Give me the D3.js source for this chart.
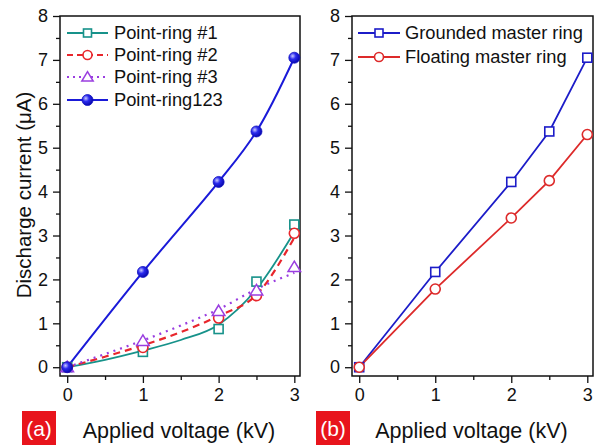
<!DOCTYPE html>
<html>
<head>
<meta charset="utf-8">
<script src="https://cdn.jsdelivr.net/npm/d3@7"></script>
<style>
  body { margin: 0; background: #fff; }
  svg { font-family: "Liberation Sans", Arial, sans-serif; }
</style>
</head>
<body>
<svg id="chart" width="594" height="445"></svg>
<script>
// voltages (kV)
var voltage = [0, 1, 2, 2.5, 3];

// panel (a) measured points (uA)
var ring1 = [0, 0.35, 0.87, 1.95, 3.25];
var ring2 = [0, 0.45, 1.12, 1.63, 3.05];
var ring3 = [0, 0.6, 1.28, 1.75, 2.28];
var ring123 = [0, 2.17, 4.22, 5.37, 7.05];

// panel (a) fitted curves
var fitX = [0, 0.5, 1, 1.5, 2, 2.5, 3];
var fit1 = [0, 0.17, 0.38, 0.62, 0.97, 1.78, 3.08];
var fit2 = [0, 0.24, 0.5, 0.8, 1.17, 1.65, 2.95];
var fit3 = [0, 0.3, 0.61, 0.95, 1.32, 1.78, 2.15];

// panel (b)
var grounded = [0, 2.17, 4.22, 5.37, 7.05];
var floating = [0, 1.78, 3.4, 4.25, 5.3];

var xTicks = [0, 1, 2, 3];
var yTicks = [0, 1, 2, 3, 4, 5, 6, 7, 8];

var svg = d3.select("#chart");

var defs = svg.append("defs");
var grad = defs.append("radialGradient").attr("id", "ball")
    .attr("cx", "35%").attr("cy", "35%").attr("r", "65%");
grad.append("stop").attr("offset", "0%").attr("stop-color", "#c8c8ff");
grad.append("stop").attr("offset", "45%").attr("stop-color", "#2a2aee");
grad.append("stop").attr("offset", "100%").attr("stop-color", "#0a0ab0");

var y = d3.scaleLinear().domain([-0.2, 8]).range([376, 16]);

function panel(x0, x1, id) {
    var x = d3.scaleLinear().domain([-0.095, 3.075]).range([x0, x1]);
    var g = svg.append("g");

    defs.append("clipPath").attr("id", "clip" + id)
        .append("rect").attr("x", x0).attr("y", 16)
        .attr("width", x1 - x0).attr("height", 360);

    // minor ticks
    g.append("g").attr("transform", "translate(0,376)")
        .call(d3.axisBottom(x).tickValues([0.5, 1.5, 2.5]).tickSize(4).tickFormat(""))
        .call(function(a) { a.select(".domain").remove(); });
    g.append("g").attr("transform", "translate(" + x0 + ",0)")
        .call(d3.axisLeft(y).tickValues(d3.range(0.5, 8, 1)).tickSize(4).tickFormat(""))
        .call(function(a) { a.select(".domain").remove(); });

    var ax = g.append("g").attr("transform", "translate(0,376)")
        .call(d3.axisBottom(x).tickValues(xTicks).tickSize(7).tickPadding(5).tickFormat(d3.format("d")));
    ax.select(".domain").remove();
    ax.selectAll("text").attr("font-size", 18).attr("fill", "#111");

    var ay = g.append("g").attr("transform", "translate(" + x0 + ",0)")
        .call(d3.axisLeft(y).tickValues(yTicks).tickSize(7).tickPadding(5).tickFormat(d3.format("d")));
    ay.select(".domain").remove();
    ay.selectAll("text").attr("font-size", 18).attr("fill", "#111");

    g.selectAll(".tick line").attr("stroke", "#111").attr("stroke-width", 1.3);

    g.append("rect").attr("x", x0).attr("y", 16)
        .attr("width", x1 - x0).attr("height", 360)
        .attr("fill", "none").attr("stroke", "#111").attr("stroke-width", 1.5);

    g.append("text").attr("x", (x0 + x1) / 2 - 1).attr("y", 438)
        .attr("text-anchor", "middle").attr("font-size", 21.5).attr("fill", "#111")
        .text("Applied voltage (kV)");

    return { x: x, g: g, clip: "url(#clip" + id + ")" };
}

function line(p, xs, ys, color, dash, curve, width) {
    p.g.append("path")
        .datum(xs.map(function(v, i) { return [v, ys[i]]; }))
        .attr("clip-path", p.clip)
        .attr("fill", "none").attr("stroke", color)
        .attr("stroke-width", width || 1.8)
        .attr("stroke-dasharray", dash)
        .attr("d", d3.line().curve(curve)
            .x(function(d) { return p.x(d[0]); })
            .y(function(d) { return y(d[1]); }));
}

function marker(sel, shape, color, size) {
    if (shape === "square") {
        sel.append("rect").attr("x", -size).attr("y", -size)
            .attr("width", size * 2).attr("height", size * 2)
            .attr("fill", "#fff").attr("stroke", color).attr("stroke-width", 1.6);
    } else if (shape === "circle") {
        sel.append("circle").attr("r", size)
            .attr("fill", "#fff").attr("stroke", color).attr("stroke-width", 1.6);
    } else if (shape === "triangle") {
        var s = size * 1.2;
        sel.append("path").attr("d", "M0," + (-s) + "L" + (s * 1.05) + "," + (s * 0.75) + "L" + (-s * 1.05) + "," + (s * 0.75) + "Z")
            .attr("fill", "#fff").attr("stroke", color).attr("stroke-width", 1.5);
    } else if (shape === "ball") {
        sel.append("circle").attr("r", size).attr("fill", "url(#ball)")
            .attr("stroke", "#1010c0").attr("stroke-width", 0.8);
    }
}

function points(p, xs, ys, shape, color, size) {
    p.g.selectAll(null)
        .data(xs.map(function(v, i) { return [v, ys[i]]; }))
        .enter().append("g")
        .attr("transform", function(d) { return "translate(" + p.x(d[0]) + "," + y(d[1]) + ")"; })
        .each(function() { marker(d3.select(this), shape, color, size); });
}

function legend(p, items, lx0, lx1, tx, rows) {
    items.forEach(function(it, i) {
        var ry = rows[i];
        p.g.append("line").attr("x1", lx0).attr("x2", lx1).attr("y1", ry).attr("y2", ry)
            .attr("stroke", it.color).attr("stroke-width", 1.8)
            .attr("stroke-dasharray", it.dash);
        var m = p.g.append("g").attr("transform", "translate(" + (lx0 + lx1) / 2 + "," + ry + ")");
        marker(m, it.shape, it.color, it.size);
        p.g.append("text").attr("x", tx).attr("y", ry).attr("dy", "0.35em")
            .attr("font-size", 18.3).attr("fill", "#111").text(it.name);
    });
}

var teal = "#17928a", red = "#e8262c", purple = "#9a3ee0", blue = "#1a1ad8";
var blueB = "#1c1cc8", redB = "#dd2a2a";

// panel (a)
var pa = panel(60, 300, "a");
line(pa, fitX, fit1, teal, null, d3.curveMonotoneX);
line(pa, fitX, fit2, red, "7,5", d3.curveMonotoneX, 2.2);
line(pa, fitX, fit3, purple, "2,5", d3.curveMonotoneX, 2.2);
line(pa, voltage, ring123, blue, null, d3.curveCatmullRom, 2);
points(pa, voltage, ring1, "square", teal, 4.5);
points(pa, voltage, ring2, "circle", red, 5);
points(pa, voltage, ring3, "triangle", purple, 5);
points(pa, voltage, ring123, "ball", blue, 5.5);
legend(pa, [
    { name: "Point-ring #1", color: teal, shape: "square", size: 4 },
    { name: "Point-ring #2", color: red, shape: "circle", size: 4.5, dash: "6,4" },
    { name: "Point-ring #3", color: purple, shape: "triangle", size: 4.5, dash: "2,4" },
    { name: "Point-ring123", color: blue, shape: "ball", size: 5.5 }
], 67, 108, 114, [33, 55, 77, 100]);

// panel (b)
var pb = panel(352, 593, "b");
line(pb, voltage, grounded, blueB, null, d3.curveLinear);
line(pb, voltage, floating, redB, null, d3.curveLinear);
points(pb, voltage, grounded, "square", blueB, 4.5);
points(pb, voltage, floating, "circle", redB, 5);
legend(pb, [
    { name: "Grounded master ring", color: blueB, shape: "square", size: 4 },
    { name: "Floating master ring", color: redB, shape: "circle", size: 4.5 }
], 358, 400, 405, [33, 57]);

// y title
svg.append("text").attr("transform", "translate(31,195) rotate(-90)")
    .attr("text-anchor", "middle").attr("font-size", 20.5).attr("fill", "#111")
    .text("Discharge current (\u03bcA)");

// panel tags
[{ t: "(a)", x: 22 }, { t: "(b)", x: 316 }].forEach(function(d) {
    svg.append("rect").attr("x", d.x).attr("y", 411).attr("width", 34).attr("height", 34)
        .attr("fill", "#e8141c");
    svg.append("text").attr("x", d.x + 17).attr("y", 436).attr("text-anchor", "middle")
        .attr("font-size", 21).attr("fill", "#fff").text(d.t);
});
</script>
</body>
</html>
